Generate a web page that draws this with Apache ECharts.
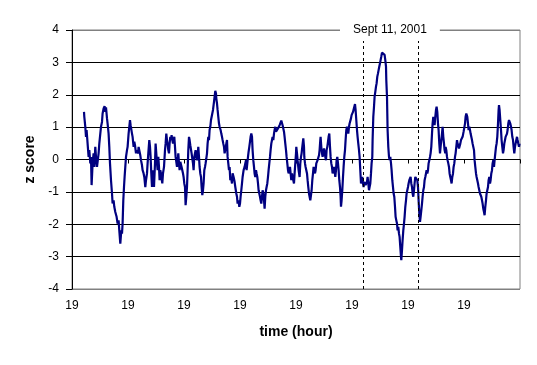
<!DOCTYPE html>
<html>
<head>
<meta charset="utf-8">
<script src="https://cdn.jsdelivr.net/npm/echarts@6/dist/echarts.min.js"></script>
<style>
html,body{margin:0;padding:0;background:#fff;}
#chart{width:537px;height:365px;}
</style>
</head>
<body>
<div id="chart"></div>
<script>
// x tick labels (one every 56 time units)
var tickLabels = ['19','19','19','19','19','19','19','19'];
var tickStep = 56;
var yTicks = [-4,-3,-2,-1,0,1,2,3,4];
var eventLines = [291.6, 346.6];
var eventLabel = 'Sept 11, 2001';

// z score samples: [time, z]
var segA = [[12.0,1.47],[12.3,1.32],[13.3,1.01],[14.0,0.70],[14.6,0.91],[15.6,0.49],[16.6,0.08],[17.3,0.29],[18.3,-0.12],[19.0,0.08],[19.6,-0.79],[20.6,-0.12],[21.6,0.19],[22.3,-0.23],[23.3,0.39],[24.0,0.08],[25.0,-0.23],[25.6,-0.07],[26.6,0.19],[27.3,0.49],[28.3,0.80],[29.0,1.01],[30.0,1.16],[30.6,1.42],[31.6,1.58],[32.6,1.65],[33.3,1.47],[34.0,1.61],[35.0,1.27],[35.6,1.11],[36.6,0.80],[37.3,0.39],[38.0,-0.12],[39.0,-0.64],[40.0,-1.05],[40.6,-1.36],[41.6,-1.26],[42.3,-1.46],[43.3,-1.62],[44.6,-1.77],[45.6,-1.98],[46.6,-1.88],[47.3,-2.19],[48.3,-2.60],[49.3,-2.19],[50.0,-2.29],[50.6,-1.98],[51.3,-1.26],[52.0,-0.85],[52.6,-0.54],[53.3,-0.23],[54.0,0.08],[55.0,0.29],[55.6,0.39],[56.6,0.80],[57.3,1.01],[58.0,1.22],[58.6,1.06],[59.3,1.01],[60.0,0.80],[60.6,0.70],[61.6,0.39],[62.3,0.55],[63.0,0.44],[64.0,0.19],[64.6,0.29],[66.0,0.19],[66.6,0.39],[67.3,0.34],[68.3,0.13],[69.0,-0.02],[70.0,-0.18],[70.6,-0.33],[71.6,-0.43],[72.3,-0.54],[73.3,-0.85],[74.0,-0.64],[75.0,-0.43],[75.6,-0.12],[76.3,0.19],[77.3,0.60],[78.0,0.39],[78.6,0.08],[79.3,-0.43],[80.0,-0.85],[80.6,-0.54],[81.3,-0.33]];
var segB = [[82.0,-0.85],[83.0,-0.12],[83.6,0.49],[84.3,0.19],[85.0,-0.12],[85.6,-0.33],[86.3,0.08],[87.0,-0.23],[87.6,-0.64],[88.3,-0.33],[89.0,-0.43],[89.6,-0.59],[90.3,-0.74],[91.0,-0.43],[92.0,-0.23],[93.0,0.29],[93.6,0.49],[94.3,0.80],[95.0,0.60],[95.6,0.49],[96.3,0.29],[97.0,0.19],[97.6,0.49],[98.3,0.70],[99.0,0.60],[99.6,0.75],[100.3,0.60],[101.0,0.49],[101.6,0.60],[102.3,0.70],[103.0,0.39],[103.6,0.08],[104.3,-0.07],[105.0,-0.23],[105.6,-0.02],[106.3,0.19],[107.0,-0.12],[107.6,-0.33],[108.3,-0.07],[109.0,-0.12],[109.6,-0.23],[110.3,-0.33],[111.0,-0.43],[111.6,-0.54],[112.3,-0.74],[113.0,-0.85],[113.6,-1.41],[114.3,-1.15],[115.0,-0.85],[115.6,-0.33],[116.3,0.29],[117.0,0.70],[117.6,0.60],[118.3,0.44],[119.0,0.39],[119.6,0.19],[120.3,0.03],[121.0,-0.12],[121.6,-0.33],[122.3,0.08],[123.0,0.13],[123.6,0.29],[124.3,0.08],[125.3,-0.02],[126.3,0.39],[127.0,0.08],[127.6,-0.23],[128.3,-0.43],[129.0,-0.54],[129.6,-0.85],[130.3,-1.10],[131.0,-0.95],[131.6,-0.74],[132.3,-0.33],[133.0,-0.23],[133.6,-0.12],[134.3,0.03],[135.0,0.19],[135.6,0.49],[136.3,0.70],[137.0,0.60],[137.6,0.91],[138.3,1.01],[139.0,1.22],[139.6,1.27],[140.3,1.42],[141.0,1.53],[142.0,1.78],[142.6,1.94],[143.3,2.12],[144.0,2.04],[144.3,1.89],[145.0,1.73],[145.6,1.53],[146.3,1.32],[147.0,1.11],[147.6,1.01],[148.6,0.91],[149.3,0.80],[150.0,0.70],[150.6,0.60],[151.3,0.49],[152.0,0.39],[152.6,0.19],[153.3,0.29],[154.3,0.49]];
var segC = [[155.0,0.60],[155.6,0.08],[156.3,-0.12],[157.0,-0.33],[157.6,-0.23],[158.3,-0.64],[159.0,-0.54],[160.0,-0.74],[160.6,-0.43],[161.6,-0.54],[162.6,-0.69],[163.3,-0.85],[164.3,-1.05],[165.0,-1.15],[165.6,-1.36],[166.6,-1.26],[167.3,-1.46],[168.0,-1.36],[168.6,-1.15],[169.3,-0.95],[170.0,-0.74],[170.6,-0.54],[171.6,-0.33],[172.6,-0.23],[173.3,-0.12],[174.0,-0.02],[174.6,-0.33],[175.3,-0.12],[176.0,0.08],[176.6,0.24],[177.3,0.39],[178.0,0.55],[178.6,0.70],[179.3,0.80],[180.0,0.70],[180.6,0.29],[181.3,-0.02],[182.0,-0.23],[182.6,-0.43],[183.3,-0.54],[184.0,-0.33],[184.6,-0.43],[185.3,-0.54],[186.0,-0.74],[186.6,-0.95],[187.3,-1.05],[188.0,-1.15],[188.6,-1.26],[189.3,-1.36],[190.0,-1.15],[190.6,-0.95],[191.3,-1.05],[192.0,-1.26],[192.6,-1.52],[193.3,-1.15],[194.0,-0.95],[194.6,-0.85],[195.3,-0.74],[196.0,-0.54],[196.6,-0.33],[197.3,-0.12],[198.0,0.08],[198.6,0.29],[199.3,0.49],[200.0,0.60],[200.6,0.70],[201.3,0.60],[202.0,0.80],[202.6,0.91],[203.3,1.01],[204.0,0.86],[205.0,0.80],[206.0,0.96],[206.6,1.01],[207.6,1.06],[208.3,1.11],[209.3,1.20],[210.0,1.22],[210.6,1.06],[211.3,1.01],[212.0,0.86],[212.6,0.70],[213.3,0.49],[214.0,0.29],[214.6,0.08],[215.3,-0.12],[216.0,-0.33],[216.6,-0.43],[217.3,-0.33],[218.0,-0.23],[218.6,-0.43],[219.3,-0.64],[220.0,-0.43],[220.6,-0.54],[221.3,-0.64],[222.0,-0.74],[222.6,-0.43],[223.3,-0.12],[224.0,0.19],[224.3,0.39],[225.0,0.19],[225.6,-0.02],[226.6,-0.33],[227.6,-0.54]];
var segD = [[228.3,-0.12],[229.0,0.08],[229.6,0.19],[230.3,0.39],[231.3,0.65],[232.0,0.39],[232.3,0.08],[233.0,-0.12],[233.6,-0.23],[234.3,-0.33],[235.0,-0.43],[235.6,-0.64],[236.3,-0.85],[237.0,-1.05],[237.6,-1.15],[238.3,-1.26],[239.0,-1.10],[239.6,-0.95],[240.3,-0.64],[241.0,-0.43],[241.6,-0.23],[242.3,-0.23],[243.0,-0.43],[243.6,-0.33],[244.3,-0.12],[245.0,-0.12],[245.6,-0.02],[246.3,-0.02],[247.0,0.13],[247.6,0.29],[248.3,0.60],[248.6,0.70],[249.3,0.39],[250.0,0.19],[250.6,0.08],[251.3,0.19],[252.0,0.34],[252.6,0.39],[253.3,0.08],[254.0,-0.02],[254.6,0.29],[255.3,0.39],[256.0,0.55],[256.6,0.70],[257.3,0.80],[258.0,0.39],[258.6,0.08],[259.3,-0.12],[260.0,-0.23],[260.6,-0.43],[261.3,-0.33],[262.0,-0.23],[262.6,-0.33],[263.3,-0.54],[264.0,-0.33],[264.6,-0.02],[265.3,0.08],[266.0,-0.12],[266.6,-0.33],[267.3,-0.64],[268.0,-0.85],[268.6,-1.15],[269.0,-1.46],[269.6,-1.26],[270.3,-0.95],[271.0,-0.54],[271.6,-0.23],[272.3,0.08],[273.0,0.29],[273.6,0.60],[274.3,0.91],[275.0,1.01],[275.6,0.91],[276.3,0.80],[277.0,1.01],[277.6,1.11],[278.3,1.16],[279.0,1.27],[279.6,1.37],[280.3,1.42],[281.0,1.47],[281.6,1.53],[282.3,1.63],[283.0,1.71],[283.6,1.53],[284.3,1.22],[285.0,0.91],[285.6,0.70],[286.3,0.49],[287.0,0.29],[287.6,0.08],[288.3,-0.33],[289.0,-0.74],[289.6,-0.64],[290.3,-0.54],[291.0,-0.74],[291.6,-0.85],[292.3,-0.69],[293.0,-0.64],[293.6,-0.79],[294.3,-0.85],[295.0,-0.69],[295.6,-0.54],[296.3,-0.74],[297.0,-0.95],[297.6,-0.85],[298.3,-0.74],[299.0,-0.43],[299.6,-0.12],[300.3,0.08]];
var segE = [[300.6,0.60],[301.3,1.32],[302.0,1.63],[302.6,1.94],[303.3,2.09],[304.0,2.25],[304.6,2.35],[305.3,2.56],[306.0,2.66],[306.6,2.76],[307.3,2.87],[308.0,2.97],[308.6,3.07],[309.3,3.18],[310.0,3.30],[310.6,3.36],[311.3,3.33],[312.0,3.36],[312.6,3.23],[313.3,3.07],[314.0,2.87],[314.3,2.45],[315.0,1.94],[315.3,1.42],[315.6,0.91],[316.3,0.39],[317.0,0.08],[317.6,-0.02],[318.3,0.08],[319.0,-0.12],[319.6,-0.33],[320.3,-0.64],[321.0,-0.85],[321.6,-1.05],[322.3,-1.15],[323.0,-1.46],[323.6,-1.77],[324.3,-1.88],[325.0,-1.98],[325.6,-2.19],[326.3,-2.08],[327.0,-2.29],[327.6,-2.39],[328.3,-2.70],[329.0,-3.01],[329.3,-3.11],[330.0,-2.80],[330.6,-2.49],[331.3,-2.19],[332.0,-1.98],[332.6,-1.77],[333.3,-1.46],[334.0,-1.26],[334.6,-1.05],[335.3,-0.95],[336.0,-0.85],[336.6,-0.74],[337.3,-0.64],[338.0,-0.59],[338.6,-0.54],[339.3,-0.74],[340.0,-0.85],[340.6,-1.05],[341.3,-1.15],[342.0,-0.95],[342.6,-0.74],[343.3,-0.54],[344.0,-0.49],[344.6,-0.54],[345.3,-0.64],[346.0,-0.85],[346.6,-1.26],[347.3,-1.67],[348.0,-1.93],[348.6,-1.77],[349.3,-1.57],[350.0,-1.36],[350.6,-1.15],[351.3,-0.95],[352.0,-0.85],[352.6,-0.64],[353.3,-0.54],[354.0,-0.43],[354.6,-0.33],[355.3,-0.43],[356.0,-0.33],[356.6,-0.12],[357.3,-0.02],[358.0,0.08],[358.6,0.19],[359.3,0.39],[360.0,0.80],[360.6,1.11],[361.3,1.32],[362.0,1.22],[362.6,1.06],[363.3,1.32],[364.0,1.53],[364.6,1.63],[365.3,1.47],[366.0,1.11],[366.6,0.91],[367.3,0.49],[368.0,0.19],[368.6,0.39],[369.3,0.60],[370.0,0.80],[370.6,1.01],[371.3,0.70],[372.0,0.49],[372.6,0.29],[373.3,0.19]];
var segF = [[373.6,0.39],[374.3,0.29],[375.0,0.08],[375.6,-0.02],[376.3,-0.12],[377.0,-0.23],[377.6,-0.43],[378.3,-0.54],[379.0,-0.64],[379.6,-0.74],[380.3,-0.54],[381.0,-0.43],[381.6,-0.23],[382.3,-0.12],[383.0,0.08],[383.6,0.19],[384.3,0.39],[385.0,0.60],[385.6,0.49],[386.3,0.44],[387.0,0.34],[387.6,0.39],[388.3,0.49],[389.0,0.60],[389.6,0.65],[390.6,0.70],[391.6,0.86],[392.3,0.91],[393.0,1.11],[393.6,1.32],[394.3,1.42],[394.6,1.47],[395.3,1.32],[396.0,1.11],[396.6,0.91],[397.3,1.01],[398.0,0.91],[398.6,0.80],[399.3,0.70],[400.0,0.60],[400.6,0.49],[401.3,0.39],[402.0,0.29],[402.6,-0.02],[403.3,-0.23],[404.0,-0.43],[404.6,-0.54],[405.3,-0.64],[406.0,-0.74],[406.6,-0.85],[407.3,-0.95],[408.0,-1.05],[408.6,-1.00],[409.3,-1.15],[410.0,-1.26],[410.6,-1.36],[411.3,-1.52],[412.0,-1.62],[412.6,-1.72],[413.3,-1.46],[414.0,-1.26],[414.6,-1.05],[415.3,-0.95],[416.0,-0.85],[416.6,-0.64],[417.3,-0.54],[418.0,-0.74],[418.6,-0.64],[419.3,-0.43],[420.0,-0.33],[420.6,-0.12],[421.3,-0.02],[422.0,-0.23],[422.6,-0.02],[423.3,0.19],[424.0,0.39],[424.6,0.49],[425.3,0.70],[426.0,1.11],[426.6,1.53],[427.0,1.68],[427.6,1.53],[428.3,1.22],[429.0,0.91],[429.6,0.60],[430.3,0.39],[431.0,0.19],[431.6,0.29],[432.3,0.49],[433.0,0.60],[433.6,0.70],[434.3,0.70],[435.0,0.80],[435.6,0.91],[436.3,1.11],[437.0,1.22],[437.6,1.27],[438.3,1.11],[439.0,1.01],[439.6,0.91],[440.3,0.70],[441.0,0.60],[441.6,0.39],[442.3,0.19],[443.0,0.39],[443.6,0.49],[444.3,0.60],[445.0,0.70],[445.6,0.60],[446.3,0.49],[447.0,0.39],[447.6,0.49]];
var zSeries = segA.concat(segB, segC, segD, segE, segF);

var FONT = '"Liberation Sans", Arial, sans-serif';
var chart = echarts.init(document.getElementById('chart'), null, {renderer: 'canvas'});
var xMax = tickStep * tickLabels.length;
var splitColors = yTicks.map(function (v, i) { return (i === 0 || i === yTicks.length - 1) ? '#808080' : '#000000'; });

chart.setOption({
  animation: false,
  backgroundColor: '#ffffff',
  title: {
    text: eventLabel,
    left: 340,
    top: 18,
    padding: [6, 13, 5, 13],
    backgroundColor: '#ffffff',
    textStyle: {fontFamily: FONT, fontSize: 12, fontWeight: 'normal', color: '#000'}
  },
  grid: {
    left: 72, top: 30, right: 17, bottom: 76,
    show: true, borderColor: '#808080', borderWidth: 1, backgroundColor: 'transparent'
  },
  xAxis: [{
    type: 'value', min: 0, max: xMax, interval: tickStep,
    position: 'bottom',
    axisLine: {show: false, onZero: false},
    axisTick: {show: false},
    splitLine: {show: false},
    axisLabel: {
      margin: 11, fontFamily: FONT, fontSize: 12, color: '#000',
      formatter: function (v) { var i = Math.round(v / tickStep); return i < tickLabels.length ? tickLabels[i] : ''; }
    },
    name: 'time (hour)', nameLocation: 'middle', nameGap: 36,
    nameTextStyle: {fontFamily: FONT, fontSize: 14, fontWeight: 'bold', color: '#000'}
  }, {
    type: 'value', min: 0, max: xMax, interval: tickStep,
    position: 'bottom',
    axisLine: {show: true, onZero: true, lineStyle: {color: '#000', width: 1}},
    axisTick: {show: true, length: 4, lineStyle: {color: '#000'}},
    axisLabel: {show: false},
    splitLine: {show: false}
  }],
  yAxis: {
    type: 'value', min: -4, max: 4, interval: 1,
    axisLine: {show: true, onZero: false, lineStyle: {color: '#000', width: 1}},
    axisTick: {show: true, length: 6, lineStyle: {color: '#000'}},
    splitLine: {show: true, lineStyle: {color: splitColors, width: 1}},
    axisLabel: {margin: 13, fontFamily: FONT, fontSize: 12, color: '#000'},
    name: 'z score', nameLocation: 'middle', nameGap: 34, nameRotate: 90,
    nameTextStyle: {fontFamily: FONT, fontSize: 14, fontWeight: 'bold', color: '#000'}
  },
  series: [{
    type: 'line',
    xAxisIndex: 0,
    data: zSeries,
    showSymbol: false,
    lineStyle: {color: '#000080', width: 2.2},
    itemStyle: {color: '#000080'},
    z: 3,
    markLine: {
      silent: true,
      symbol: 'none',
      label: {show: false},
      lineStyle: {color: '#000', type: [3, 3], width: 1},
      data: eventLines.map(function (t) { return {xAxis: t}; })
    }
  }]
});
</script>
</body>
</html>
